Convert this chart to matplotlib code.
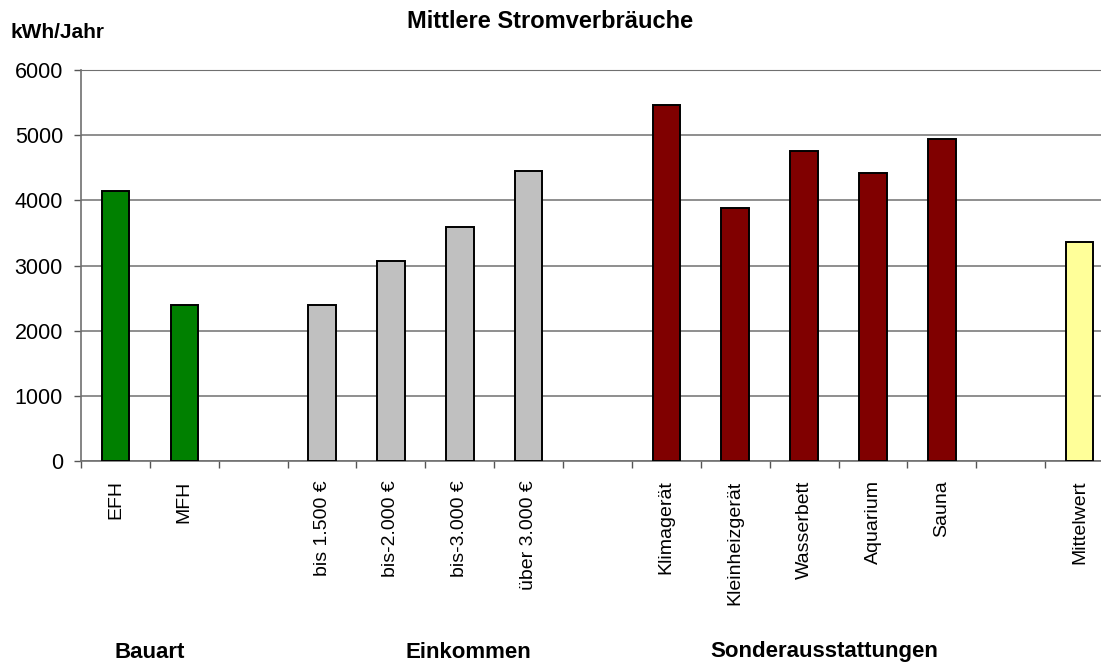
import matplotlib
matplotlib.use('Agg')
import matplotlib.pyplot as plt
import matplotlib.transforms as mtransforms

plt.rcParams['font.family'] = ['Liberation Sans', 'DejaVu Sans']

# slot positions (gaps between groups are empty slots)
labels = ['EFH', 'MFH', 'bis 1.500 €', 'bis-2.000 €', 'bis-3.000 €', 'über 3.000 €',
          'Klimagerät', 'Kleinheizgerät', 'Wasserbett', 'Aquarium', 'Sauna', 'Mittelwert']
slots = [0, 1, 3, 4, 5, 6, 8, 9, 10, 11, 12, 14]
werte = [4140, 2390, 2400, 3070, 3590, 4450, 5465, 3890, 4760, 4425, 4945, 3355]
farben = ['#008000'] * 2 + ['#c0c0c0'] * 4 + ['#800000'] * 5 + ['#ffff99']
gruppen = ['Bauart', 'Einkommen', 'Sonderausstattungen']
gruppen_x = [0.5, 5.12, 10.3]

fig = plt.figure(figsize=(11.01, 6.63), dpi=100)
ax = fig.add_axes([81 / 1101, 202 / 663, 1033 / 1101, 391 / 663])

ax.set_axisbelow(True)
ax.yaxis.grid(True, color='#707070', lw=1.1)
ax.bar(slots, werte, width=0.4, color=farben, edgecolor='black', linewidth=1.4, zorder=3)

ax.set_xlim(-0.5, 14.5)
ax.set_ylim(0, 6000)
ax.set_yticks(range(0, 6001, 1000))
ax.tick_params(axis='y', labelsize=15.5, length=5, width=1, color='#555555', pad=8)

ax.set_xticks(slots)
ax.set_xticklabels(labels, rotation=90, fontsize=14)
ax.tick_params(axis='x', which='major', length=0, pad=14)
ax.set_xticks([i - 0.5 for i in range(16)], minor=True)
ax.tick_params(axis='x', which='minor', length=5, width=1, color='#555555')

ax.spines['right'].set_visible(False)
ax.spines['top'].set_color('#707070')
ax.spines['left'].set_color('#707070')
ax.spines['bottom'].set_color('#707070')
ax.spines['left'].set_linewidth(1.2)
ax.spines['bottom'].set_linewidth(1.2)

fig.text(550 / 1101, 1 - 22 / 663, 'Mittlere Stromverbräuche', ha='center', va='center',
         fontsize=17, fontweight='bold')
fig.text(11 / 1101, 1 - 33 / 663, 'kWh/Jahr', ha='left', va='center',
         fontsize=15, fontweight='bold')

trans = mtransforms.blended_transform_factory(ax.transData, fig.transFigure)
for g, gx in zip(gruppen, gruppen_x):
    ax.text(gx, 1 - 652 / 663, g, transform=trans, ha='center', va='center',
            fontsize=16, fontweight='bold')

fig.savefig('out.png', dpi=100)
